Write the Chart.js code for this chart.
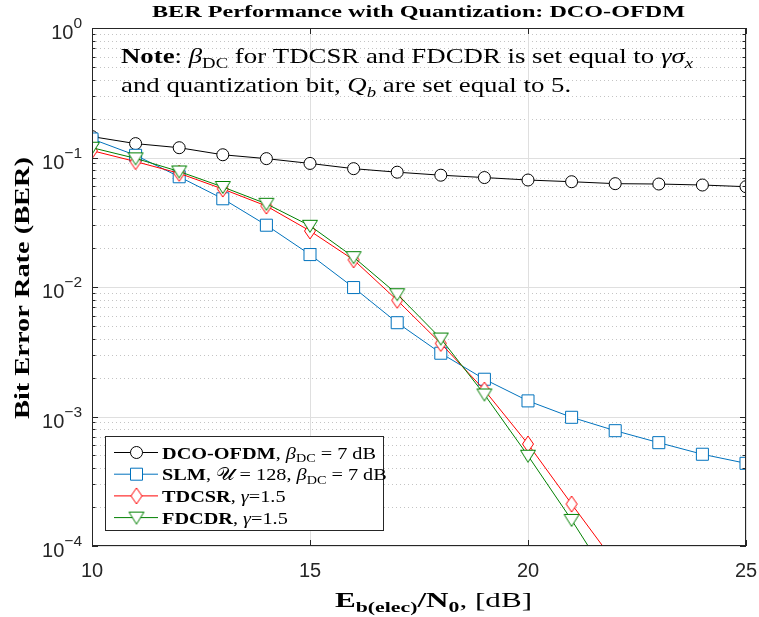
<!DOCTYPE html>
<html>
<head>
<meta charset="utf-8">
<script src="https://cdn.jsdelivr.net/npm/chart.js@4.4.0/dist/chart.umd.min.js"></script>
<style>
  html, body { margin: 0; padding: 0; background: #fff; }
</style>
</head>
<body>
<canvas id="berChart" width="759" height="617"></canvas>
<script>
// Eb/N0 in dB
const snr = [10, 11, 12, 13, 14, 15, 16, 17, 18, 19, 20, 21, 22, 23, 24, 25];
const berDco = [0.145, 0.128, 0.119, 0.105, 0.098, 0.090, 0.082, 0.077, 0.073, 0.070, 0.067, 0.065, 0.0628, 0.0624, 0.0613, 0.0595];
const berSlm = [0.139, 0.104, 0.071, 0.048, 0.030, 0.0178, 0.0099, 0.0053, 0.00308, 0.00194, 0.00132, 0.000986, 0.000777, 0.000628, 0.000511, 0.000435];
const berTdcsr = [0.113, 0.093, 0.0755, 0.0571, 0.0422, 0.0271, 0.0162, 0.0079, 0.00367, 0.0016, 0.000613, 0.000211, 0.000074];
const berFdcdr = [0.119, 0.0985, 0.078, 0.0592, 0.0439, 0.0297, 0.0170, 0.0088, 0.0040, 0.00148, 0.000498, 0.000159, 0.000047];
const xTickVals = [10, 15, 20, 25];
const yDecades = [-4, -3, -2, -1, 0];

const AX = '#262626';
const SERIF = '"Liberation Serif", "DejaVu Serif", serif';
const SANS = '"Liberation Sans", Arial, sans-serif';

function pts(ys) {
    return ys.map((v, i) => ({ x: snr[i], y: v }));
}

function markerCanvas(kind, color) {
    const c = document.createElement('canvas');
    c.width = 20; c.height = 20;
    const g = c.getContext('2d');
    g.strokeStyle = color; g.fillStyle = '#fff'; g.lineWidth = 1;
    g.beginPath();
    if (kind === 'diamond') {
        g.moveTo(10, 2); g.lineTo(15.5, 10); g.lineTo(10, 18); g.lineTo(4.5, 10);
    } else {
        g.moveTo(2.5, 4.5); g.lineTo(17.5, 4.5); g.lineTo(10, 16.5);
    }
    g.closePath(); g.fill(); g.stroke();
    return c;
}
const diamondImg = markerCanvas('diamond', '#ff0000');
const triImg = markerCanvas('tri', '#008000');

// rich text: parts = [{t, b, i, sub}]
function fontOf(p, size) {
    const s = p.sub ? size * 0.7 : size;
    return (p.i ? 'italic ' : '') + (p.b ? 'bold ' : '') + s.toFixed(2) + 'px ' + SERIF;
}
function richWidth(ctx, parts, size) {
    let w = 0;
    parts.forEach(p => { ctx.font = fontOf(p, size); w += ctx.measureText(p.t).width; });
    return w;
}
// draws at the given size, stretched horizontally by sx
function richDraw(ctx, parts, x, y, size, sx) {
    ctx.save();
    ctx.translate(x, y);
    ctx.scale(sx, 1);
    ctx.textBaseline = 'alphabetic';
    ctx.textAlign = 'left';
    let cx = 0;
    parts.forEach(p => {
        ctx.font = fontOf(p, size);
        ctx.fillText(p.t, cx, p.sub ? size * 0.22 : 0);
        cx += ctx.measureText(p.t).width;
    });
    ctx.restore();
}
function stretchTo(ctx, parts, size, target) {
    return target / richWidth(ctx, parts, size);
}

const titleParts = [{ t: 'BER Performance with Quantization: DCO-OFDM', b: 1 }];
const noteLine1 = [{ t: 'Note', b: 1 }, { t: ': ' }, { t: 'β', i: 1 }, { t: 'DC', sub: 1 },
    { t: ' for TDCSR and FDCDR is set equal to ' }, { t: 'γσ', i: 1 }, { t: 'x', i: 1, sub: 1 }];
const noteLine2 = [{ t: 'and quantization bit, ' }, { t: 'Q', i: 1 }, { t: 'b', i: 1, sub: 1 }, { t: ' are set equal to 5.' }];
const xLabelParts = [{ t: 'E', b: 1 }, { t: 'b(elec)', b: 1, sub: 1 }, { t: '/N', b: 1 }, { t: '0', b: 1, sub: 1 }, { t: ', [dB]' }];
const yLabelParts = [{ t: 'Bit Error Rate (BER)', b: 1 }];
const legendRows = [
    { color: '#000000', mark: 'circle', parts: [{ t: 'DCO-OFDM', b: 1 }, { t: ', ' }, { t: 'β', i: 1 }, { t: 'DC', sub: 1 }, { t: ' = 7 dB' }] },
    { color: '#0072bd', mark: 'square', parts: [{ t: 'SLM', b: 1 }, { t: ', ' }, { t: '𝒰' }, { t: ' = 128, ' }, { t: 'β', i: 1 }, { t: 'DC', sub: 1 }, { t: ' = 7 dB' }] },
    { color: '#ff0000', mark: 'diamond', parts: [{ t: 'TDCSR', b: 1 }, { t: ', ' }, { t: 'γ', i: 1 }, { t: '=1.5' }] },
    { color: '#008000', mark: 'tri', parts: [{ t: 'FDCDR', b: 1 }, { t: ', ' }, { t: 'γ', i: 1 }, { t: '=1.5' }] }
];

const matlabAxes = {
    id: 'matlabAxes',
    beforeDatasetsDraw(chart) {
        const { ctx, chartArea: a, scales: { x, y } } = chart;
        ctx.save();
        ctx.lineWidth = 1;
        // minor dotted grid
        ctx.strokeStyle = '#c4c4c4';
        ctx.setLineDash([1, 3]);
        yDecades.slice(0, -1).forEach(k => {
            for (let m = 2; m <= 9; m++) {
                const py = Math.round(y.getPixelForValue(m * Math.pow(10, k))) + 0.5;
                ctx.beginPath(); ctx.moveTo(a.left, py); ctx.lineTo(a.right, py); ctx.stroke();
            }
        });
        ctx.setLineDash([]);
        ctx.strokeStyle = '#dfdfdf';
        yDecades.forEach(k => {
            const py = Math.round(y.getPixelForValue(Math.pow(10, k))) + 0.5;
            ctx.beginPath(); ctx.moveTo(a.left, py); ctx.lineTo(a.right, py); ctx.stroke();
        });
        xTickVals.forEach(v => {
            const px = Math.round(x.getPixelForValue(v)) + 0.5;
            ctx.beginPath(); ctx.moveTo(px, a.top); ctx.lineTo(px, a.bottom); ctx.stroke();
        });
        ctx.restore();
    },
    afterDatasetsDraw(chart) {
        const { ctx, chartArea: a, scales: { x, y } } = chart;
        ctx.save();
        ctx.strokeStyle = AX;
        ctx.lineWidth = 1;
        ctx.strokeRect(a.left + 0.5, a.top + 0.5, a.right - a.left - 1, a.bottom - a.top - 1);
        // ticks
        ctx.beginPath();
        xTickVals.forEach(v => {
            const px = Math.round(x.getPixelForValue(v)) + 0.5;
            ctx.moveTo(px, a.bottom); ctx.lineTo(px, a.bottom - 6);
            ctx.moveTo(px, a.top); ctx.lineTo(px, a.top + 6);
        });
        yDecades.forEach(k => {
            for (let m = 1; m <= 9; m++) {
                if (k === 0 && m > 1) break;
                const len = m === 1 ? 6 : 3.5;
                const py = Math.round(y.getPixelForValue(m * Math.pow(10, k))) + 0.5;
                ctx.moveTo(a.left, py); ctx.lineTo(a.left + len, py);
                ctx.moveTo(a.right, py); ctx.lineTo(a.right - len, py);
            }
        });
        ctx.stroke();

        // tick labels
        ctx.fillStyle = AX;
        ctx.font = '20px ' + SANS;
        ctx.textAlign = 'center';
        ctx.textBaseline = 'alphabetic';
        xTickVals.forEach(v => ctx.fillText(String(v), x.getPixelForValue(v), a.bottom + 31));
        yDecades.forEach(k => {
            const py = y.getPixelForValue(Math.pow(10, k));
            const ex = k === 0 ? '0' : '\u2212' + (-k);
            ctx.font = '20px ' + SANS;
            const w1 = ctx.measureText('10').width;
            ctx.font = '15.5px ' + SANS;
            const w2 = ctx.measureText(ex).width;
            const x0 = a.left - 10 - w1 - w2;
            ctx.textAlign = 'left';
            ctx.font = '20px ' + SANS;
            ctx.fillText('10', x0, py + 11);
            ctx.font = '15.5px ' + SANS;
            ctx.fillText(ex, x0 + w1, py);
        });

        // title
        ctx.fillStyle = '#000';
        richDraw(ctx, titleParts, 152, 17, 17, stretchTo(ctx, titleParts, 17, 533));

        // axis labels
        richDraw(ctx, xLabelParts, 335, 607, 20.5, stretchTo(ctx, xLabelParts, 20.5, 197));
        ctx.save();
        ctx.translate(29, 288);
        ctx.rotate(-Math.PI / 2);
        richDraw(ctx, yLabelParts, -131, 0, 21.5, stretchTo(ctx, yLabelParts, 21.5, 262));
        ctx.restore();

        // note
        const nsx = stretchTo(ctx, noteLine1, 21, 572);
        richDraw(ctx, noteLine1, 121, 63, 21, nsx);
        richDraw(ctx, noteLine2, 121, 92, 21, nsx);

        // legend
        ctx.fillStyle = '#fff';
        ctx.fillRect(105.5, 436.5, 278, 94);
        ctx.strokeStyle = AX;
        ctx.strokeRect(105.5, 436.5, 278, 94);
        const lsx = stretchTo(ctx, legendRows[0].parts, 16.5, 214);
        legendRows.forEach((r, i) => {
            const cy = 452.5 + i * 21.7;
            ctx.strokeStyle = r.color;
            ctx.lineWidth = 1;
            ctx.beginPath(); ctx.moveTo(114, cy); ctx.lineTo(158, cy); ctx.stroke();
            ctx.fillStyle = '#fff';
            ctx.beginPath();
            if (r.mark === 'circle') {
                ctx.arc(136.5, cy, 6, 0, Math.PI * 2);
                ctx.fill(); ctx.stroke();
            } else if (r.mark === 'square') {
                ctx.rect(130.5, cy - 6, 12, 12);
                ctx.fill(); ctx.stroke();
            } else if (r.mark === 'diamond') {
                ctx.drawImage(diamondImg, 126.5, cy - 10);
            } else {
                ctx.drawImage(triImg, 126.5, cy - 10);
            }
            ctx.fillStyle = '#000';
            richDraw(ctx, r.parts, 162, cy + 6, 16.5, lsx);
        });
        ctx.restore();
    }
};

new Chart(document.getElementById('berChart'), {
    type: 'line',
    data: {
        datasets: [
            { label: 'DCO-OFDM', data: pts(berDco), borderColor: '#000000', backgroundColor: '#ffffff',
              pointStyle: 'circle', pointRadius: 6, pointBorderWidth: 1, borderWidth: 1, order: 4 },
            { label: 'SLM', data: pts(berSlm), borderColor: '#0072bd', backgroundColor: '#ffffff',
              pointStyle: 'rect', pointRadius: 8.5, pointBorderWidth: 1, borderWidth: 1, order: 3 },
            { label: 'TDCSR', data: pts(berTdcsr), borderColor: '#ff0000', backgroundColor: '#ffffff',
              pointStyle: diamondImg, pointRadius: 8, borderWidth: 1, order: 2 },
            { label: 'FDCDR', data: pts(berFdcdr), borderColor: '#008000', backgroundColor: '#ffffff',
              pointStyle: triImg, pointRadius: 8, borderWidth: 1, order: 1 }
        ]
    },
    options: {
        responsive: false,
        animation: false,
        devicePixelRatio: 1,
        layout: { padding: { left: 92, right: 13, top: 28, bottom: 71 } },
        elements: { line: { tension: 0 } },
        plugins: { legend: { display: false }, tooltip: { enabled: false } },
        scales: {
            x: { type: 'linear', min: 10, max: 25, afterFit(s) { s.height = 0; },
                 ticks: { display: false }, grid: { display: false }, border: { display: false } },
            y: { type: 'logarithmic', min: 1e-4, max: 1, afterFit(s) { s.width = 0; },
                 ticks: { display: false }, grid: { display: false }, border: { display: false } }
        }
    },
    plugins: [matlabAxes]
});
</script>
</body>
</html>
